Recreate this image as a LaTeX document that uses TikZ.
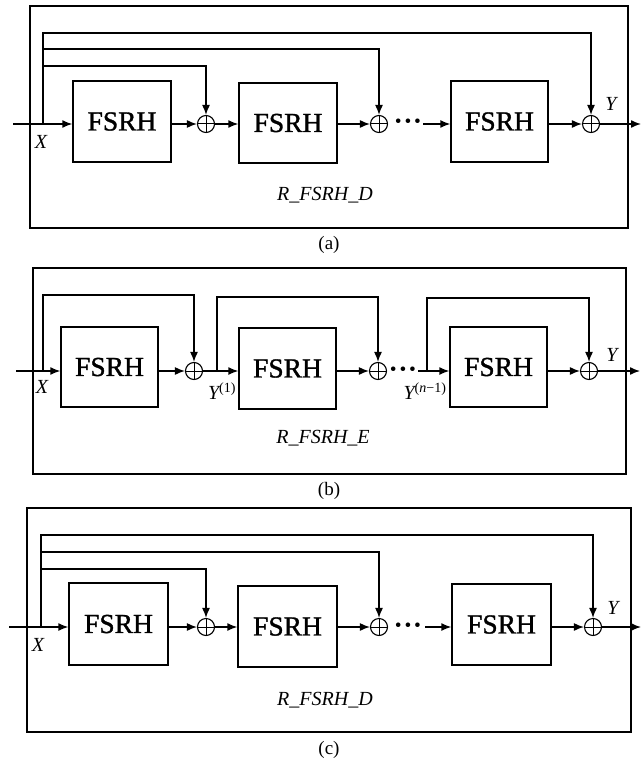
\documentclass[tikz,border=0pt]{standalone}
\usepackage{fontspec}
\setmainfont{Liberation Serif}
\newfontfamily\blkfont[FakeBold=1.2]{Liberation Serif}
\usetikzlibrary{arrows.meta,calc}
\tikzset{
  lw/.style={line width=1.4pt},
  frame/.style={draw, lw},
  blk/.style={draw, lw, inner sep=0pt, font=\blkfont\fontsize{27.5}{27.5}\selectfont},
  sumnode/.style={circle, draw, line width=1.1pt, minimum size=17pt, inner sep=0pt,
    path picture={\draw[line width=1pt] (path picture bounding box.north) -- (path picture bounding box.south)
      (path picture bounding box.west) -- (path picture bounding box.east);}},
  arr/.style={lw, -{Latex[length=10pt,width=8pt]}},
  lbl/.style={inner sep=0pt, font=\fontsize{20}{20}\selectfont\itshape},
  captext/.style={inner sep=0pt, font=\fontsize{19}{19}\selectfont},
  dotsnode/.style={inner sep=0pt, text height=3pt, text depth=0pt, font=\fontsize{28}{28}\selectfont\bfseries},
}
\begin{document}
\begin{tikzpicture}[x=1pt,y=-1pt]
\useasboundingbox (0,0) rectangle (642,762);

% ================= (a) =================
\draw[frame] (30,6) rectangle (628,228);
\coordinate (a-in) at (13,124);
\coordinate (a-tap) at (43,124);
\coordinate (a-out) at (641,124);
\node[blk, minimum width=98pt, minimum height=81pt] (a-b1) at (122,121.5) {FSRH};
\node[blk, minimum width=98pt, minimum height=80pt] (a-b2) at (288,123) {FSRH};
\node[blk, minimum width=97pt, minimum height=81pt] (a-b3) at (499.5,121.5) {FSRH};
\node[sumnode] (a-s1) at (206,124) {};
\node[sumnode] (a-s2) at (379,124) {};
\node[sumnode] (a-s3) at (591,124) {};
\node[dotsnode] (a-dots) at (408,129.5) {·\hspace{0.3pt}·\hspace{0.3pt}·};
\draw[arr] (a-in) -- (a-b1.west |- a-in);
\draw[arr] (a-b1.east |- a-s1) -- (a-s1.west);
\draw[arr] (a-s1.east) -- (a-b2.west |- a-s1);
\draw[arr] (a-b2.east |- a-s2) -- (a-s2.west);
\draw[arr] (423,124) -- (a-b3.west |- a-s3);
\draw[arr] (a-b3.east |- a-s3) -- (a-s3.west);
\draw[arr] (a-s3.east) -- (a-out);
\draw[arr] (a-tap) -- (a-tap |- 0,33) -| (a-s3.north);
\draw[arr] (a-tap) -- (a-tap |- 0,49) -| (a-s2.north);
\draw[arr] (a-tap) -- (a-tap |- 0,66) -| (a-s1.north);
\node[lbl] (a-x) at (41,142) {X};
\node[lbl] (a-y) at (611,104) {Y};
\node[lbl] (a-name) at (325,195) {R\_FSRH\_D};
\node[captext] (a-cap) at (329,245) {(a)};

% ================= (b) =================
\draw[frame] (33,268) rectangle (626,474);
\coordinate (b-in) at (16,371);
\coordinate (b-tap) at (43,371);
\coordinate (b-tap2) at (217,371);
\coordinate (b-tap3) at (427,371);
\coordinate (b-out) at (640,371);
\node[blk, minimum width=97pt, minimum height=80pt] (b-b1) at (109.5,367) {FSRH};
\node[blk, minimum width=97pt, minimum height=81pt] (b-b2) at (287.5,368.5) {FSRH};
\node[blk, minimum width=97pt, minimum height=80pt] (b-b3) at (498.5,367) {FSRH};
\node[sumnode] (b-s1) at (194,371) {};
\node[sumnode] (b-s2) at (378,371) {};
\node[sumnode] (b-s3) at (589,371) {};
\node[dotsnode] (b-dots) at (403,376.5) {·\hspace{0.3pt}·\hspace{0.3pt}·};
\draw[arr] (b-in) -- (b-b1.west |- b-in);
\draw[arr] (b-b1.east |- b-s1) -- (b-s1.west);
\draw[arr] (b-s1.east) -- (b-b2.west |- b-s1);
\draw[arr] (b-b2.east |- b-s2) -- (b-s2.west);
\draw[arr] (418,371) -- (b-b3.west |- b-s3);
\draw[arr] (b-b3.east |- b-s3) -- (b-s3.west);
\draw[arr] (b-s3.east) -- (b-out);
\draw[arr] (b-tap) -- (b-tap |- 0,295) -| (b-s1.north);
\draw[arr] (b-tap2) -- (b-tap2 |- 0,297) -| (b-s2.north);
\draw[arr] (b-tap3) -- (b-tap3 |- 0,298) -| (b-s3.north);
\node[lbl] (b-x) at (42,387) {X};
\node[lbl] (b-y1) at (222,391) {Y\textsuperscript{\upshape(1)}};
\node[lbl] (b-yn) at (425,391) {Y\textsuperscript{\upshape(\textit{n}−1)}};
\node[lbl] (b-y) at (612,355) {Y};
\node[lbl] (b-name) at (323,438) {R\_FSRH\_E};
\node[captext] (b-cap) at (329,491) {(b)};

% ================= (c) =================
\draw[frame] (27,508) rectangle (631,732);
\coordinate (c-in) at (9,627);
\coordinate (c-tap) at (41,627);
\coordinate (c-out) at (641,627);
\node[blk, minimum width=99pt, minimum height=82pt] (c-b1) at (118.5,624) {FSRH};
\node[blk, minimum width=99pt, minimum height=81pt] (c-b2) at (287.5,626.5) {FSRH};
\node[blk, minimum width=99pt, minimum height=81pt] (c-b3) at (501.5,624.5) {FSRH};
\node[sumnode] (c-s1) at (206,627) {};
\node[sumnode] (c-s2) at (379,627) {};
\node[sumnode] (c-s3) at (593,627) {};
\node[dotsnode] (c-dots) at (408,632.5) {·\hspace{0.3pt}·\hspace{0.3pt}·};
\draw[arr] (c-in) -- (c-b1.west |- c-in);
\draw[arr] (c-b1.east |- c-s1) -- (c-s1.west);
\draw[arr] (c-s1.east) -- (c-b2.west |- c-s1);
\draw[arr] (c-b2.east |- c-s2) -- (c-s2.west);
\draw[arr] (425,627) -- (c-b3.west |- c-s3);
\draw[arr] (c-b3.east |- c-s3) -- (c-s3.west);
\draw[arr] (c-s3.east) -- (c-out);
\draw[arr] (c-tap) -- (c-tap |- 0,535) -| (c-s3.north);
\draw[arr] (c-tap) -- (c-tap |- 0,552) -| (c-s2.north);
\draw[arr] (c-tap) -- (c-tap |- 0,569) -| (c-s1.north);
\node[lbl] (c-x) at (38,645) {X};
\node[lbl] (c-y) at (613,608) {Y};
\node[lbl] (c-name) at (325,700) {R\_FSRH\_D};
\node[captext] (c-cap) at (329,750) {(c)};
\end{tikzpicture}
\end{document}
